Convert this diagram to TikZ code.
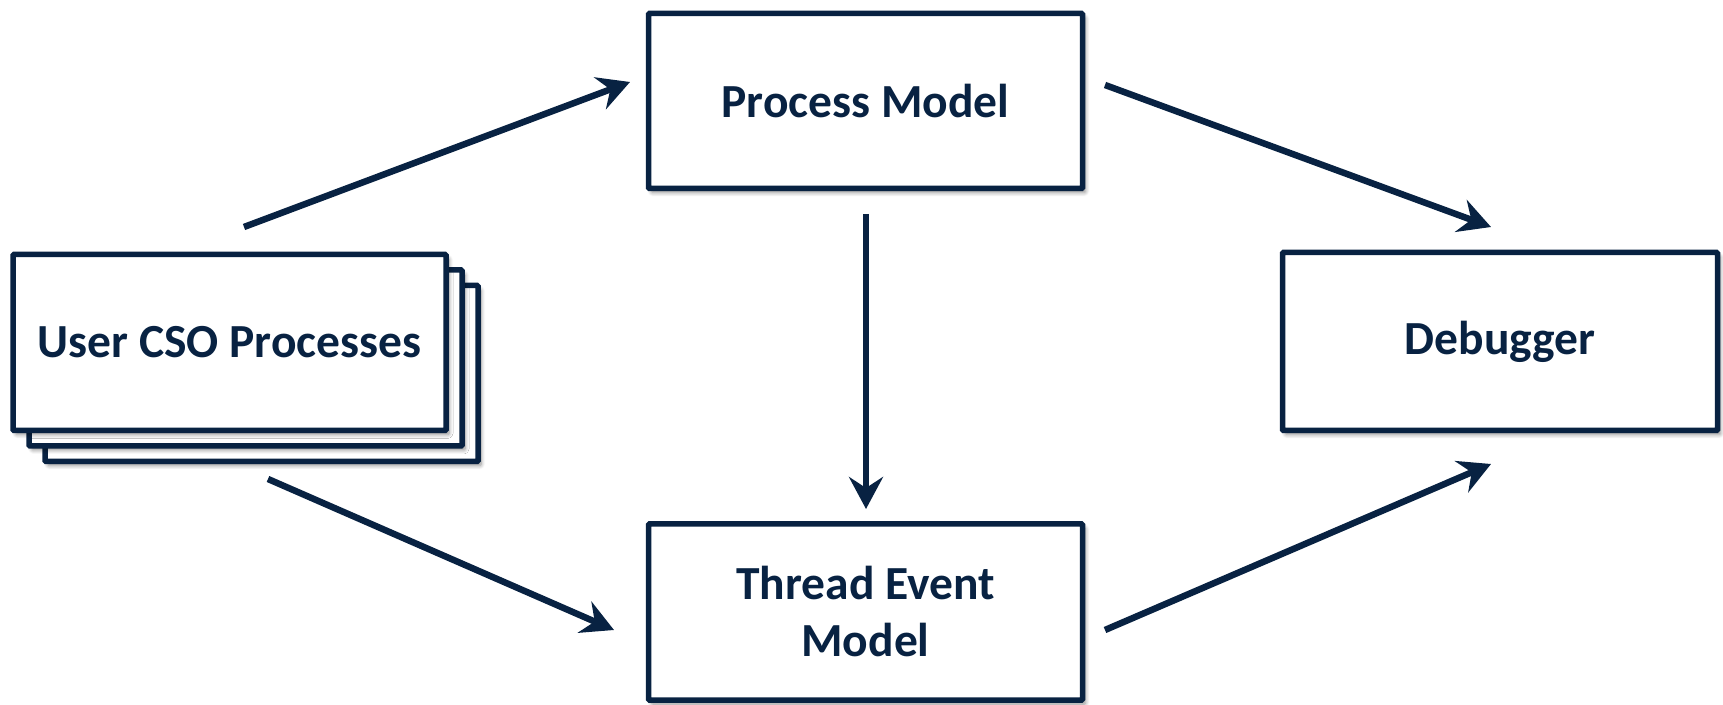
\documentclass[tikz,border=0pt]{standalone}
\usepackage{fontspec}
\setmainfont{Carlito}
\usetikzlibrary{arrows.meta,shadows.blur}
\definecolor{navy}{HTML}{082242}
\begin{document}
\begin{tikzpicture}[x=1pt,y=1pt,
  box/.style={draw=navy, line width=5.5pt, fill=white, rectangle, rounded corners=1pt,
    blur shadow={shadow xshift=3pt, shadow yshift=-4pt, shadow blur steps=6, shadow blur radius=4pt, shadow opacity=45},
    text=navy, font=\bfseries\fontsize{47.5}{57}\selectfont, align=center, inner sep=0pt},
  conn/.style={draw=navy, line width=6.5pt, -{Stealth[length=32pt,width=34pt,inset=11pt]}}]
\useasboundingbox (0,0) rectangle (1723,704);
% user processes stack
\node[box, minimum width=433pt, minimum height=176pt] (usr3) at (261.5,330.5) {};
\node[box, minimum width=433pt, minimum height=176pt] (usr2) at (245.5,346) {};
\node[box, minimum width=433pt, minimum height=176pt] (usr) at (229.5,361.5) {User CSO Processes};
\node[box, minimum width=434pt, minimum height=175pt] (pm) at (865.5,603) {Process Model};
\node[box, minimum width=434pt, minimum height=176pt] (te) at (865.5,92) {Thread Event\\Model};
\node[box, minimum width=435pt, minimum height=178pt] (dbg) at (1500,362.5) {Debugger};
% connector end points
\coordinate (a1s) at (244,477);
\coordinate (a1e) at (630,622);
\coordinate (a2s) at (1105,619);
\coordinate (a2e) at (1491,477);
\coordinate (a3s) at (866,490);
\coordinate (a3e) at (866,195);
\coordinate (a4s) at (268,225);
\coordinate (a4e) at (614,74);
\coordinate (a5s) at (1105,74);
\coordinate (a5e) at (1491,240);
\draw[conn] (a1s) -- (a1e);
\draw[conn] (a2s) -- (a2e);
\draw[conn] (a3s) -- (a3e);
\draw[conn] (a4s) -- (a4e);
\draw[conn] (a5s) -- (a5e);
\end{tikzpicture}
\end{document}
